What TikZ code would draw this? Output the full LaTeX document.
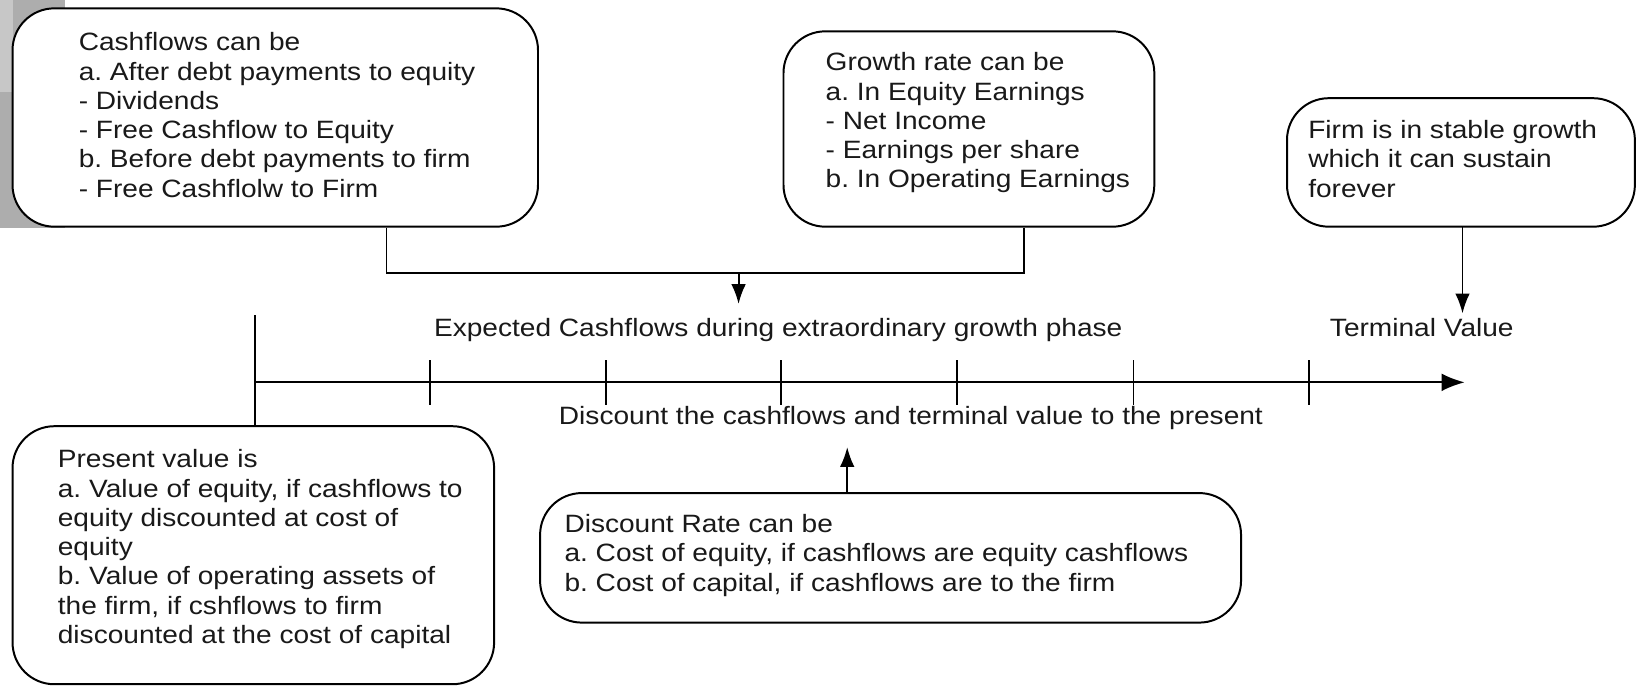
\documentclass[tikz,border=0pt]{standalone}
\usepackage{fontspec}
\setmainfont[FakeStretch=1.12]{Liberation Sans}
\usetikzlibrary{fit,arrows.meta}
\frenchspacing
\begin{document}
\begin{tikzpicture}[x=0.5pt,y=-0.5pt,
  box/.style={draw=black, line width=0.95pt, rounded corners=20pt, fill=white, inner sep=0pt},
  txt/.style={font=\fontsize{12pt}{14pt}\selectfont, align=left, inner sep=0pt, anchor=north west, text=black!90},
  lbl/.style={font=\fontsize{12pt}{14pt}\selectfont, inner sep=0pt, anchor=base, text=black!90},
  ln/.style={line width=0.9pt},
  arr/.style={line width=0.9pt, -{Latex[length=9.5pt,width=7pt]}},
  bigarr/.style={line width=0.9pt, -{Latex[length=11pt,width=8.5pt]}}]
\useasboundingbox (0,0) rectangle (1568,656);
% grey slide strip
\fill[black!32] (0,0) rectangle (62,218);
\fill[black!22] (0,0) rectangle (12,88);

% boxes
\node[box, fit={(12,8) (515,217)}] (cf) {};
\node[box, fit={(750,30) (1105,217)}] (gr) {};
\node[box, fit={(1232,94) (1565,217)}] (fs) {};
\node[box, fit={(12,408) (473,655)}] (pv) {};
\node[box, fit={(517,472) (1188,596)}] (dr) {};

% box texts
\node[txt] (cft) at (75,31) {Cashflows can be\\a. After debt payments to equity\\- Dividends\\- Free Cashflow to Equity\\b. Before debt payments to firm\\- Free Cashflolw to Firm};
\node[txt] (grt) at (790,50) {Growth rate can be\\a. In Equity Earnings\\- Net Income\\- Earnings per share\\b. In Operating Earnings};
\node[txt] (fst) at (1252,115) {Firm is in stable growth\\which it can sustain\\forever};
\node[txt] (pvt) at (55,430) {Present value is\\a. Value of equity, if cashflows to\\equity discounted at cost of\\equity\\b. Value of operating assets of\\the firm, if cshflows to firm\\discounted at the cost of capital};
\node[txt] (drt) at (540,492) {Discount Rate can be\\a. Cost of equity, if cashflows are equity cashflows\\b. Cost of capital, if cashflows are to the firm};

% free labels
\node[lbl] (ecf) at (745,322) {Expected Cashflows during extraordinary growth phase};
\node[lbl] (tv) at (1361,322) {Terminal Value};
\node[lbl] (disc) at (872,406) {Discount the cashflows and terminal value to the present};

% connector from the two top boxes
\coordinate (ja) at (370,261);
\coordinate (jb) at (980,261);
\coordinate (jm) at (707,261);
\coordinate (je) at (707,291);
\draw[ln] (cf.south -| ja) -- (ja) -- (jb) -- (gr.south -| jb);
\draw[arr] (jm) -- (je);

% terminal value arrow
\coordinate (ft) at (1400,217);
\coordinate (fe) at (1400,300);
\draw[arr] (ft) -- (fe);

% discount rate arrow
\coordinate (dtop) at (811,472);
\coordinate (dend) at (811,428);
\draw[arr] (dtop) -- (dend);

% timeline
\coordinate (t0) at (244,366);
\coordinate (tv0) at (244,302);
\coordinate (tend) at (1402,366);
\draw[ln] (tv0) -- (pv.north -| tv0);
\draw[bigarr] (t0) -- (tend);
\foreach \x in {412,580,748,916,1085,1253}{
  \draw[ln] (\x,345) -- (\x,388);
}
\end{tikzpicture}
\end{document}
